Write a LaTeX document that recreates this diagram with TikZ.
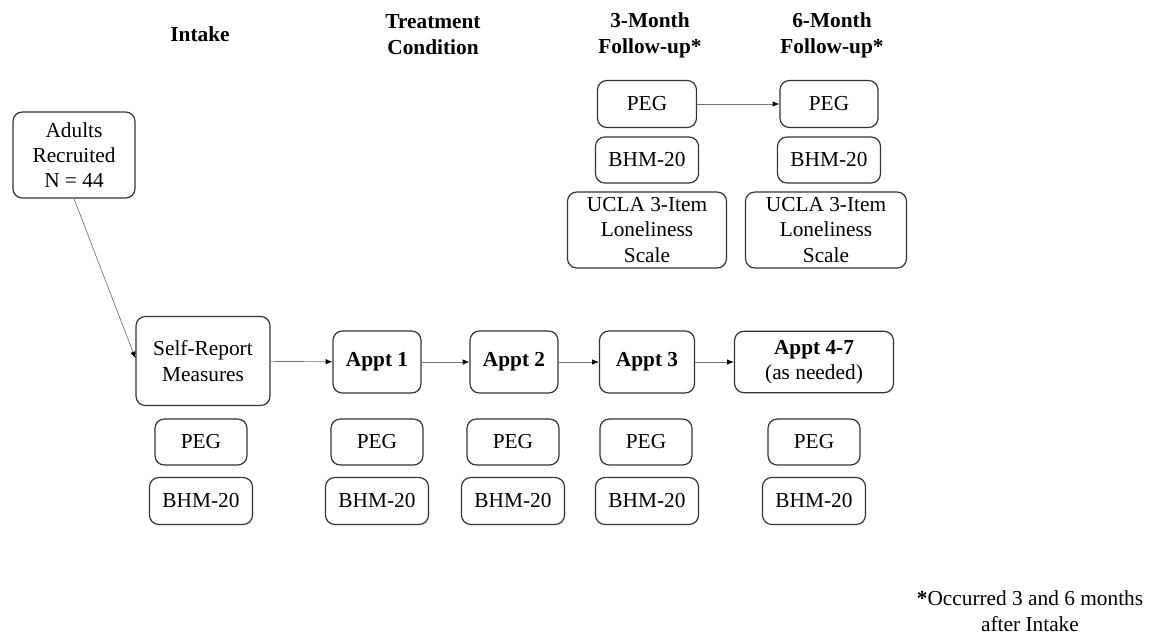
\documentclass[tikz,border=0pt]{standalone}
\usepackage{fontspec}
\setmainfont{Liberation Serif}
\usetikzlibrary{arrows.meta}
\begin{document}
\begin{tikzpicture}[x=0.75pt,y=-0.75pt,
  every node/.style={font=\fontsize{16}{19}\selectfont},
  box/.style={draw=black!80, line width=0.9pt, rounded corners=7pt, align=center, inner sep=2pt},
  hdr/.style={align=center, font=\fontsize{16}{19.5}\selectfont\bfseries},
  arr/.style={draw=black!55, line width=0.5pt, -{Latex[length=5pt,width=4pt,black]}}]
\useasboundingbox (0,0) rectangle (1150,639);
% headers
\node[hdr] (hIntake) at (200,34) {Intake};
\node[hdr] (hTreat) at (433,35) {Treatment\\Condition};
\node[hdr] (h3) at (650,35) {3-Month\\Follow-up*};
\node[hdr] (h6) at (832,35) {6-Month\\Follow-up*};
% intake
\node[box, minimum width=91.5pt, minimum height=64.5pt] (adults) at (74,155) {Adults\\Recruited\\N = 44};
\node[box, minimum width=100.5pt, minimum height=66.75pt] (sr) at (203,361) {Self-Report\\Measures};
\node[box, minimum width=69pt, minimum height=34.5pt] (peg0) at (201,442) {PEG};
\node[box, minimum width=77.25pt, minimum height=35.25pt] (bhm0) at (201,501) {BHM-20};
% appointments
\node[box, minimum width=66pt, minimum height=46.5pt] (a1) at (377,362) {\textbf{Appt 1}};
\node[box, minimum width=66pt, minimum height=46.5pt] (a2) at (514,362) {\textbf{Appt 2}};
\node[box, minimum width=71.25pt, minimum height=46.5pt] (a3) at (647,362) {\textbf{Appt 3}};
\node[box, minimum width=119.25pt, minimum height=46pt] (a4) at (814,362) {\textbf{Appt 4-7}\\(as needed)};
\node[box, minimum width=69pt, minimum height=34.5pt] (peg1) at (377,442) {PEG};
\node[box, minimum width=69pt, minimum height=34.5pt] (peg2) at (513,442) {PEG};
\node[box, minimum width=69pt, minimum height=34.5pt] (peg3) at (646,442) {PEG};
\node[box, minimum width=69pt, minimum height=34.5pt] (peg4) at (814,442) {PEG};
\node[box, minimum width=77.25pt, minimum height=35.25pt] (bhm1) at (377,501) {BHM-20};
\node[box, minimum width=77.25pt, minimum height=35.25pt] (bhm2) at (513,501) {BHM-20};
\node[box, minimum width=77.25pt, minimum height=35.25pt] (bhm3) at (647,501) {BHM-20};
\node[box, minimum width=77.25pt, minimum height=35.25pt] (bhm4) at (814,501) {BHM-20};
% follow-ups
\node[box, minimum width=74.25pt, minimum height=35.25pt] (p3) at (647,104) {PEG};
\node[box, minimum width=77.25pt, minimum height=34.5pt] (b3) at (647,160) {BHM-20};
\node[box, minimum width=119.25pt, minimum height=57pt] (u3) at (647,230) {UCLA 3-Item\\Loneliness\\Scale};
\node[box, minimum width=73.5pt, minimum height=35.25pt] (p6) at (829,104) {PEG};
\node[box, minimum width=77.25pt, minimum height=34.5pt] (b6) at (829,160) {BHM-20};
\node[box, minimum width=120.75pt, minimum height=57pt] (u6) at (826,230) {UCLA 3-Item\\Loneliness\\Scale};
% footnote
\node[align=center, font=\fontsize{16}{19.5}\selectfont] (fn) at (1030,611) {\textbf{*}Occurred 3 and 6 months\\after Intake};
% connectors
\draw[arr] (adults.south) -- ([yshift=2pt]sr.west);
\draw[arr] (sr) -- (a1);
\draw[arr] (a1) -- (a2);
\draw[arr] (a2) -- (a3);
\draw[arr] (a3) -- (a4);
\draw[arr] (p3) -- (p6);
\end{tikzpicture}
\end{document}
